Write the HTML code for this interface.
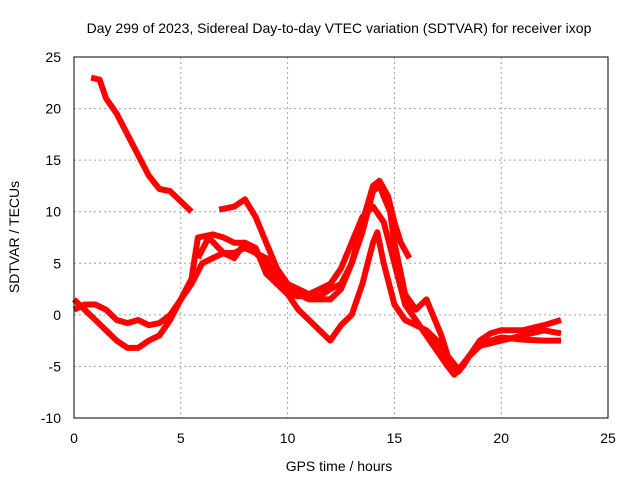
<!DOCTYPE html>
<html><head><meta charset="utf-8"><style>
body{margin:0;background:#fff;}
svg text{font-family:"Liberation Sans",sans-serif;font-size:14px;fill:#000;}
</style></head><body>
<svg id="chart" width="640" height="480">
<rect width="640" height="480" fill="#fff"/>
<text x="339" y="33" text-anchor="middle">Day 299 of 2023, Sidereal Day-to-day VTEC variation (SDTVAR) for receiver ixop</text>
<text x="339" y="471" text-anchor="middle">GPS time / hours</text>
<text transform="translate(19,237) rotate(-90)" text-anchor="middle">SDTVAR / TECUs</text>
<g id="grid"></g><g id="series"></g><g id="axes"></g>
</svg>
<script>
const xTicks=[0,5,10,15,20,25];
const yTicks=[-10,-5,0,5,10,15,20,25];
const s1x=[0.8,1.2,1.5,2,2.5,3,3.5,4,4.5,5,5.5];
const s1y=[23,22.8,21,19.5,17.5,15.5,13.5,12.2,12,11,10];
const s2x=[6.8,7.5,8,8.5,9,9.5,10,10.5,11,11.5,12,12.5,13,13.5,14,14.3,14.7,15,15.3,15.7];
const s2y=[10.2,10.5,11.2,9.5,7,4.5,3,2.5,2,1.8,2.5,3,5,9,12.5,13,11.5,9,7,5.5];
const s3x=[0,0.5,1,1.5,2,2.5,3,3.5,4,4.5,5,5.5,6,6.5,7,7.5,8,8.5,9,9.5,10,10.5,11,11.5,12,12.5,13,13.5,14,14.5,15,15.5,16,16.5,17,17.5,17.8,18.2,18.5,19,19.5,20,21,22,22.8];
const s3y=[1.5,0.5,-0.5,-1.5,-2.5,-3.2,-3.2,-2.5,-2,-0.5,1.5,3,5,5.5,6,6,6.5,6,5,4,2,1.8,2,2.5,3,4.5,7,9.5,10.5,9,5,1,-0.5,-2,-3.5,-5,-5.8,-5,-4,-3,-2.5,-2.2,-2.4,-2.5,-2.5];
const s4x=[0,0.5,1,1.5,2,2.5,3,3.5,4,4.5,5,5.5,5.8,6.5,7,7.5,8,8.5,9,9.5,10,10.5,11,11.5,12,12.5,13,13.5,14,14.3,14.8,15,15.5,16,16.5,16.8,17.2,17.5,18,18.5,19,19.5,20,21,22,22.8];
const s4y=[0.5,1,1,0.5,-0.5,-0.8,-0.5,-1,-0.8,0,1.5,3.5,7.5,7.8,7.5,7,7,6.5,4,3,2.5,2,1.5,1.5,1.5,2.5,5,8,12,12.5,10,7,2,0.5,1.5,0,-2,-4,-5.5,-4,-2.5,-1.8,-1.5,-1.5,-1,-0.5];
const s5x=[5.8,6.3,7,7.5,8,8.5,9,9.5,10,10.5,11,11.5,12,12.5,13,13.5,14,14.2,14.5,15,15.5,16,16.5,17,17.5,18,18.5,19,20,21,22,22.8];
const s5y=[5.5,7.5,6,5.5,7,6,5.5,3,2,0.5,-0.5,-1.5,-2.5,-1,0,3,7,8,5,1,-0.5,-1,-1.5,-2.5,-4,-5.3,-4,-3,-2.5,-2,-1.5,-1.8];
const X=v=>74+v*(534/25), Y=v=>418-(v+10)*(361/35);
const NS="http://www.w3.org/2000/svg";
const grid=document.getElementById('grid'),axes=document.getElementById('axes'),ser=document.getElementById('series');
function mk(tag,at,par){const e=document.createElementNS(NS,tag);for(const k in at)e.setAttribute(k,at[k]);par.appendChild(e);return e;}
xTicks.forEach(t=>{
 if(t>0&&t<25){const g=mk('line',{x1:X(t),x2:X(t),y1:57,y2:418,stroke:'#a0a0a0','stroke-dasharray':'2,3'},grid);
 
 }
 const tx=mk('text',{x:X(t),y:443,'text-anchor':'middle'},axes);tx.textContent=t;
 
 
});
yTicks.forEach(t=>{
 if(t>-10&&t<25){const g=mk('line',{x1:74,x2:608,y1:Y(t),y2:Y(t),stroke:'#a0a0a0','stroke-dasharray':'2,3'},grid);
 
 }
 const tx=mk('text',{x:61,y:Y(t)+5,'text-anchor':'end'},axes);tx.textContent=t;
 
 
});
const fr=mk('rect',{x:74,y:57,width:534,height:361,fill:'none',stroke:'#000'},axes);


[[s1x,s1y],[s2x,s2y],[s3x,s3y],[s4x,s4y],[s5x,s5y]].forEach((s,i)=>{
 const pts=s[0].map((x,j)=>X(x).toFixed(1)+','+Y(s[1][j]).toFixed(1)).join(' ');
 const p=mk('polyline',{points:pts,fill:'none',stroke:'#ff0000','stroke-width':6,'stroke-linejoin':'round'},ser);
 
 
});
</script>
</body></html>
